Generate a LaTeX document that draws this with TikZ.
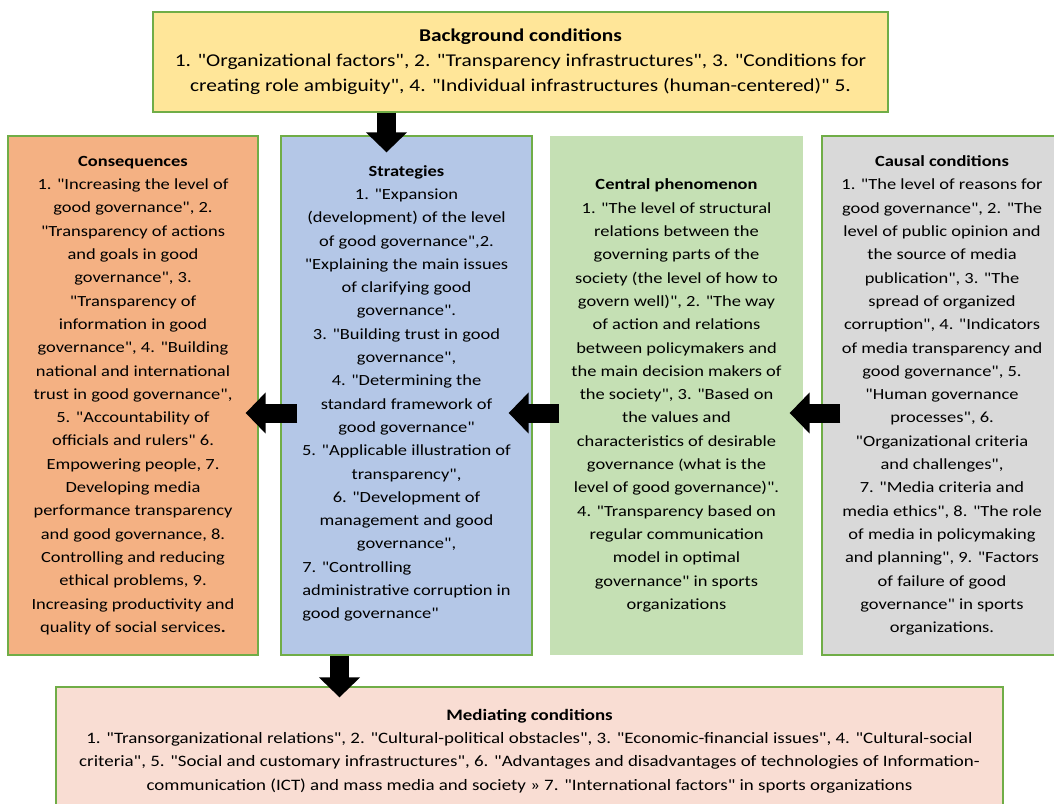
\documentclass[tikz,border=0pt]{standalone}
\usepackage{fontspec}
\setmainfont{Carlito}[FakeStretch=1.19,Ligatures=TeXOff]
\usetikzlibrary{arrows.meta,calc}
\definecolor{edgegreen}{HTML}{70AD47}
\definecolor{bggold}{HTML}{FFE699}
\definecolor{consorange}{HTML}{F4B183}
\definecolor{stratblue}{HTML}{B4C7E7}
\definecolor{centralgreen}{HTML}{C5E0B4}
\definecolor{causalgrey}{HTML}{D9D9D9}
\definecolor{medpink}{HTML}{F9DDD3}
\tikzset{>=latex,
  box/.style={draw=edgegreen, line width=1.3pt, align=center, inner sep=0pt,
    font=\fontsize{15.5}{23.3}\selectfont},
  column/.style={box, minimum height=519pt},
  blockarrow/.style={line width=19pt, -{Triangle[length=20pt,width=40pt]}},
}

\begin{document}
\begin{tikzpicture}[x=1pt,y=-1pt]
  \useasboundingbox (0,0) rectangle (1054,803);
  \node[box, font=\fontsize{18}{25}\selectfont, fill=bggold, minimum width=735pt, minimum height=100pt] (bg) at (520.5,62)
    {\textbf{Background conditions}\\
     1. "Organizational factors", 2. "Transparency infrastructures", 3. "Conditions for\\
     creating role ambiguity", 4. "Individual infrastructures (human-centered)" 5.};
  \node[column, fill=consorange, minimum width=250pt] (cons) at (133,395.5)
    {\textbf{Consequences}\\
     1. "Increasing the level of\\good governance", 2.\\"Transparency of actions\\
     and goals in good\\governance", 3.\\"Transparency of\\information in good\\
     governance", 4. "Building\\national and international\\trust in good governance",\\
     5. "Accountability of\\officials and rulers" 6.\\Empowering people, 7.\\
     Developing media\\performance transparency\\and good governance, 8.\\
     Controlling and reducing\\ethical problems, 9.\\Increasing productivity and\\
     quality of social services\textbf{.}};
  \node[column, fill=stratblue, minimum width=251pt] (strat) at (406.5,395.5)
    {\textbf{Strategies}\\
     1. "Expansion\\(development) of the level\\of good governance",2.\\
     "Explaining the main issues\\of clarifying good\\governance".\\
     3. "Building trust in good\\governance",\\4. "Determining the\\
     standard framework of\\good governance"\\5. "Applicable illustration of\\
     transparency",\\6. "Development of\\management and good\\governance",\\
     \begin{tabular}[t]{@{}l@{}}7. "Controlling\\administrative corruption in\\good governance"\end{tabular}};
  \node[column, draw=none, fill=centralgreen, minimum width=253pt] (central) at (676.5,395.5)
    {\textbf{Central phenomenon}\\
     1. "The level of structural\\relations between the\\governing parts of the\\
     society (the level of how to\\govern well)", 2. "The way\\of action and relations\\
     between policymakers and\\the main decision makers of\\the society", 3. "Based on\\
     the values and\\characteristics of desirable\\governance {\Large(}what is the\\
     level of good governance)".\\4. "Transparency based on\\regular communication\\
     model in optimal\\governance" in sports\\organizations};
  \node[column, fill=causalgrey, minimum width=240pt] (causal) at (942,395.5)
    {\textbf{Causal conditions}\\
     1. "The level of reasons for\\good governance", 2. "The\\level of public opinion and\\
     the source of media\\publication", 3. "The\\spread of organized\\
     corruption", 4. "Indicators\\of media transparency and\\good governance", 5.\\
     "Human governance\\processes", 6.\\"Organizational criteria\\and challenges",\\
     7. "Media criteria and\\media ethics", 8. "The role\\of media in policymaking\\
     and planning", 9. "Factors\\of failure of good\\governance" in sports\\organizations.};
  \node[box, font=\fontsize{15.9}{23.3}\selectfont, fill=medpink, minimum width=947pt, minimum height=128pt] (med) at (529.5,751)
    {\textbf{Mediating conditions}\\
     1. "Transorganizational relations", 2. "Cultural-political obstacles", 3. "Economic-financial issues", 4. "Cultural-social\\
     criteria", 5. "Social and customary infrastructures", 6. "Advantages and disadvantages of technologies of Information-\\
     communication (ICT) and mass media and society » 7. "International factors" in sports organizations};
  % arrows
  \coordinate (mid) at (0,413);
  \draw[blockarrow] ($(bg.south -| strat.north)+(-20,0)$) -- ($(strat.north)+(-20,17)$);
  \draw[blockarrow] ($(strat.west |- mid)+(17,0)$) -- ($(cons.east |- mid)+(-13,0)$);
  \draw[blockarrow] ($(central.west |- mid)+(10,0)$) -- ($(strat.east |- mid)+(-24,0)$);
  \draw[blockarrow] ($(causal.west |- mid)+(19,0)$) -- ($(central.east |- mid)+(-14,0)$);
  \draw[blockarrow] ($(strat.south)+(-67,0)$) -- ($(med.north -| strat.south)+(-67,11)$);
\end{tikzpicture}
\end{document}
